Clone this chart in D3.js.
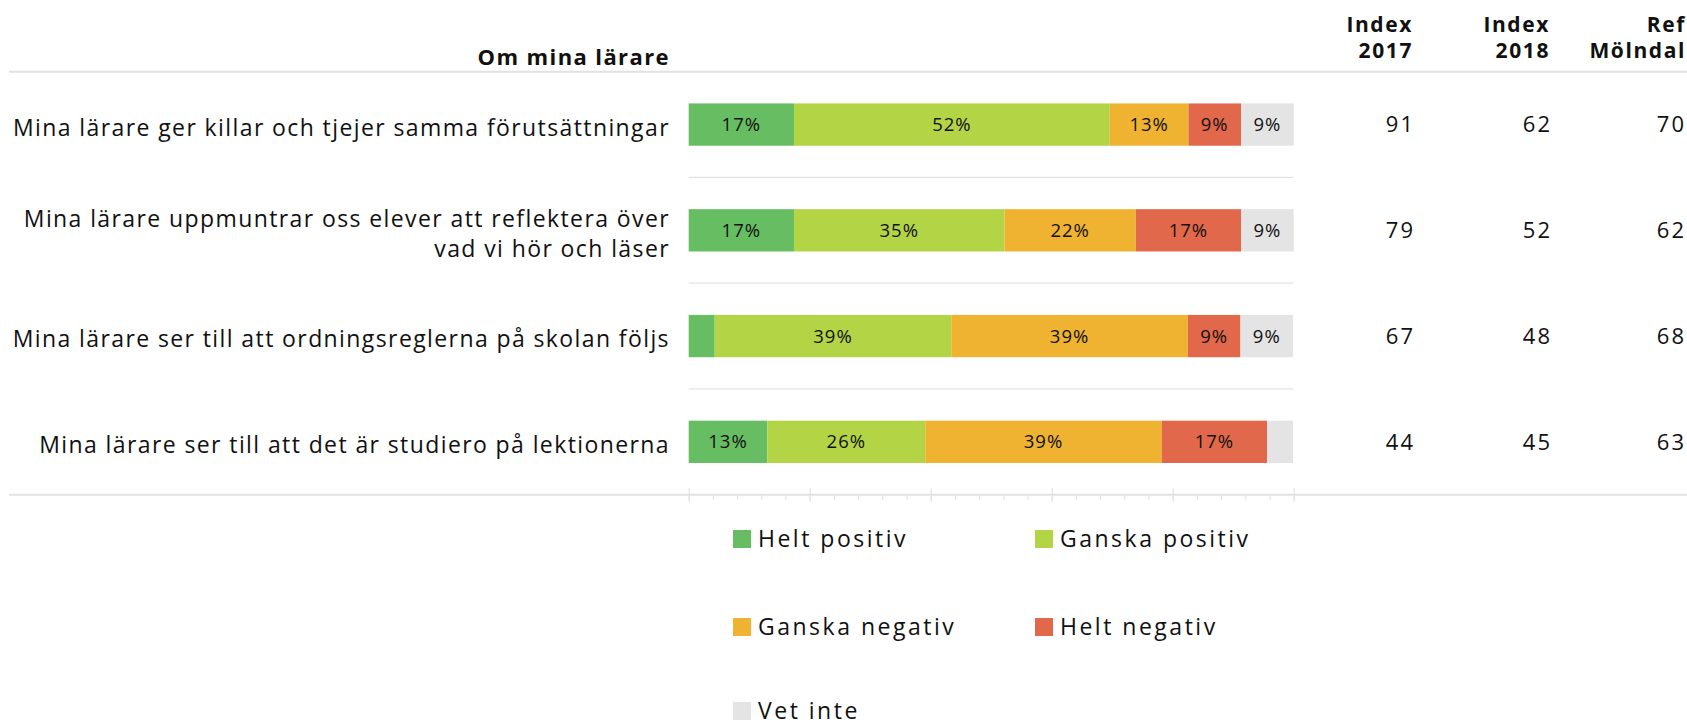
<!DOCTYPE html>
<html>
<head>
<meta charset="utf-8">
<script src="https://cdn.jsdelivr.net/npm/d3@7"></script>
<style>
  html, body { margin: 0; padding: 0; background: #fff; }
  svg { display: block; }
  text { font-family: "Open Sans", sans-serif; fill: #111; }
</style>
</head>
<body>
<svg id="chart" width="1687" height="726"></svg>
<script>
// ---- data ----
const title = "Om mina lärare";
const categories = [
  ["Mina lärare ger killar och tjejer samma förutsättningar"],
  ["Mina lärare uppmuntrar oss elever att reflektera över", "vad vi hör och läser"],
  ["Mina lärare ser till att ordningsreglerna på skolan följs"],
  ["Mina lärare ser till att det är studiero på lektionerna"]
];
const seriesNames = ["Helt positiv", "Ganska positiv", "Ganska negativ", "Helt negativ", "Vet inte"];
const seriesColors = ["#67be62", "#b3d445", "#f0b331", "#e1684b", "#e4e4e4"];
const heltPositiv    = [17.4, 17.4, 4.3, 13.0];
const ganskaPositiv  = [52.2, 34.8, 39.1, 26.1];
const ganskaNegativ  = [13.0, 21.7, 39.1, 39.1];
const heltNegativ    = [8.7, 17.4, 8.7, 17.4];
const vetInte        = [8.7, 8.7, 8.7, 4.3];
const columnHeaders = [["Index", "2017"], ["Index", "2018"], ["Ref", "Mölndal"]];
const index2017  = [91, 79, 67, 44];
const index2018  = [62, 52, 48, 45];
const refMolndal = [70, 62, 68, 63];
const xTicksMajor = [0, 20, 40, 60, 80, 100];

// ---- layout ----
const svg = d3.select("#chart");
const W = 1687;
const seriesValues = [heltPositiv, ganskaPositiv, ganskaNegativ, heltNegativ, vetInte];
const rows = categories.map((c, i) => {
  const o = { idx: i, label: c };
  seriesNames.forEach((s, k) => o[s] = seriesValues[k][i]);
  return o;
});
const stack = d3.stack().keys(seriesNames)(rows);

const x = d3.scaleLinear().domain([0, 100]).range([688.7, 1293.7]);
const y = d3.scaleBand().domain(d3.range(categories.length)).range([71.7, 494.7])
  .paddingInner(0.6).paddingOuter(0.3);

const gridColor = "#e2e2e2";

// header line (full width)
svg.append("line").attr("x1", 9).attr("x2", W).attr("y1", y.range()[0]).attr("y2", y.range()[0])
  .attr("stroke", gridColor).attr("stroke-width", 2);

// separators between rows
const step = y.step();
svg.append("g").selectAll("line").data(d3.range(1, categories.length)).join("line")
  .attr("x1", x(0)).attr("x2", x(100))
  .attr("y1", d => y.range()[0] + d * step).attr("y2", d => y.range()[0] + d * step)
  .attr("stroke", gridColor).attr("stroke-width", 1.2);

// axis
const axisY = y.range()[1];
svg.append("line").attr("x1", 9).attr("x2", W).attr("y1", axisY).attr("y2", axisY)
  .attr("stroke", gridColor).attr("stroke-width", 2);
const minorAxis = d3.axisBottom(x).tickValues(d3.range(0, 101, 4)).tickSize(5).tickFormat("");
const gMinor = svg.append("g").attr("transform", `translate(0,${axisY})`).call(minorAxis);
const majorAxis = d3.axisBottom(x).tickValues(xTicksMajor).tickSize(7).tickFormat("");
const gMajor = svg.append("g").attr("transform", `translate(0,${axisY})`).call(majorAxis);
gMajor.selectAll(".tick line").attr("y1", -7);
[gMinor, gMajor].forEach(g => {
  g.select(".domain").remove();
  g.selectAll(".tick line").attr("stroke", gridColor).attr("stroke-width", 1.2);
});

// bars
const gBars = svg.append("g");
stack.forEach((layer, k) => {
  gBars.append("g").attr("fill", seriesColors[k]).selectAll("rect").data(layer).join("rect")
    .attr("x", d => x(d[0]))
    .attr("width", d => x(d[1]) - x(d[0]))
    .attr("y", (d, i) => y(i))
    .attr("height", y.bandwidth());
  gBars.append("g").selectAll("text").data(layer.filter(d => (d[1] - d[0]) >= 5)).join("text")
    .attr("x", d => (x(d[0]) + x(d[1])) / 2)
    .attr("y", d => y(d.data.idx) + y.bandwidth() / 2)
    .attr("dy", "0.36em")
    .attr("text-anchor", "middle")
    .style("font-size", "18.5px")
    .style("letter-spacing", "1px")
    .text(d => Math.round(d[1] - d[0]) + "%");
});

// category labels
const labelX = 670;
const gLab = svg.append("g");
rows.forEach((r, i) => {
  const cy = y(i) + y.bandwidth() / 2;
  const lines = r.label;
  const lh = 30;
  const t = gLab.append("text").attr("text-anchor", "end")
    .style("font-size", "23px").style("letter-spacing", "1.4px");
  lines.forEach((ln, j) => {
    t.append("tspan").attr("x", labelX)
      .attr("y", cy + (j - (lines.length - 1) / 2) * lh + 3)
      .attr("dy", "0.36em").text(ln);
  });
});

// title
svg.append("text").attr("x", labelX).attr("y", 57).attr("dy", "0.36em")
  .attr("text-anchor", "end").style("font-size", "22px").style("font-weight", "bold")
  .style("letter-spacing", "1.4px").text(title);

// value columns
const colX = [1414, 1551, 1686];
const colData = [index2017, index2018, refMolndal];
colData.forEach((arr, c) => {
  const g = svg.append("g");
  const last = c === colData.length - 1;
  g.append("text").attr("text-anchor", "end").style("font-size", "21px").style("font-weight", "bold")
    .style("letter-spacing", "1.6px")
    .selectAll("tspan").data(columnHeaders[c]).join("tspan")
    .attr("x", last ? colX[c] : colX[c] - 1).attr("y", (d, j) => 24 + j * 26).attr("dy", "0.36em").text(d => d);
  g.selectAll("text.val").data(arr).join("text").attr("class", "val")
    .attr("x", last ? colX[c] : colX[c] + 1).attr("y", (d, i) => y(i) + y.bandwidth() / 2).attr("dy", "0.36em")
    .attr("text-anchor", "end").style("font-size", "22px").style("letter-spacing", "2px")
    .text(d => d);
});

// legend
const legendPos = [[733, 539], [1035, 539], [733, 627], [1035, 627], [733, 711]];
const gLeg = svg.append("g");
seriesNames.forEach((s, k) => {
  const [lx, ly] = legendPos[k];
  gLeg.append("rect").attr("x", lx).attr("y", ly - 9).attr("width", 18).attr("height", 18)
    .attr("fill", seriesColors[k]);
  gLeg.append("text").attr("x", lx + 25).attr("y", ly).attr("dy", "0.34em")
    .style("font-size", "23px").style("letter-spacing", "2.5px").text(s);
});
</script>
</body>
</html>
